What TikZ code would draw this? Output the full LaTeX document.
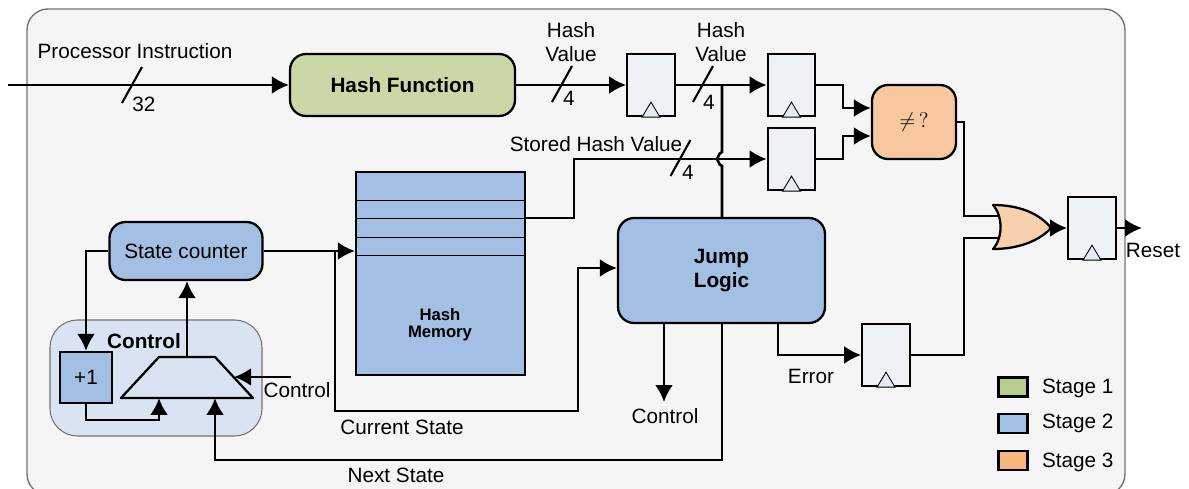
\documentclass[tikz,border=0pt]{standalone}
\usepackage{amsmath,amsfonts,amssymb}
\usepackage{fontspec}
\setmainfont{Liberation Sans}
\usepackage{tikz}
\usetikzlibrary{arrows.meta,positioning}

\definecolor{panelgray}{HTML}{F5F5F5}
\definecolor{stageone}{HTML}{C9D8A6}
\definecolor{stagetwo}{HTML}{A3BFE4}
\definecolor{stagethree}{HTML}{F7C8A0}
\definecolor{regfill}{HTML}{EEF2F7}
\definecolor{clockfill}{HTML}{E4EBF6}
\definecolor{groupfill}{HTML}{DAE3F1}
\definecolor{keyone}{HTML}{B7CC89}
\definecolor{keythree}{HTML}{F9B77C}

\begin{document}
\begin{tikzpicture}[
    x=0.02cm, y=-0.02cm,
    every node/.style={font=\fontsize{11.8}{13.6}\selectfont, inner sep=0pt, align=center},
    block/.style={draw, line width=1.3pt, rounded corners=0.32cm},
    reg/.style={draw, line width=1.3pt, fill=regfill, minimum width=0.95cm, minimum height=1.24cm},
    swatch/.style={draw, line width=1.3pt, minimum width=0.58cm, minimum height=0.38cm},
    wire/.style={line width=1.5pt},
    arrow/.style={wire, -{Latex[length=3.4mm,width=3.6mm]}}
]
\clip (0,0) rectangle (1189,489);

\draw[draw=black!55, line width=0.8pt, fill=panelgray, rounded corners=0.42cm] (27,9) rectangle (1125,495);
\draw[draw=black!55, line width=0.6pt, fill=groupfill, rounded corners=0.55cm] (50,320) rectangle (262,436);

% gate ends
\coordinate (orA) at (1000,216);
\coordinate (orB) at (1000,238);
\coordinate (orC) at (1051,228);

% blocks
\node (hashfn) [block, fill=stageone, minimum width=4.5cm, minimum height=1.24cm] at (402.5,85) {\bfseries Hash Function};
\node (memory) [draw, line width=1.3pt, fill=stagetwo, minimum width=3.38cm, minimum height=4.06cm] at (440.5,273.5) {};
\node (memlabel) [font=\fontsize{9.5}{9.8}\selectfont\bfseries] at (440,325) {Hash\\Memory};
\node (jump) [block, fill=stagetwo, minimum width=4.14cm, minimum height=2.1cm] at (721.5,270.5) {\bfseries Jump\\\bfseries Logic};
\node (counter) [block, fill=stagetwo, minimum width=3.06cm, minimum height=1.16cm] at (186,251) {State counter};
\node (plusone) [draw, line width=1.3pt, fill=stagetwo, minimum width=1.04cm, minimum height=1.02cm] at (86,377.5) {+1};
\node (compare) [block, fill=stagethree, minimum width=1.68cm, minimum height=1.48cm] at (914,122) {$\neq\,?$};

% mux outline
\coordinate (muxtop) at (187,357);
\coordinate (muxa) at (159,398);
\coordinate (muxb) at (215,398);
\coordinate (muxc) at (234,377);
\draw[line width=1.3pt, line join=round] (121,398) -- (159,357) -- (215,357) -- (253,398) -- cycle;

% registers
\node (regA) [reg] at (651,85) {};
\node (regB) [reg] at (791.5,85) {};
\node (regC) [reg] at (791.5,159) {};
\node (regD) [reg] at (886,355) {};
\node (regE) [reg] at (1092,228) {};
\foreach \reg in {regA,regB,regC,regD,regE}
    \draw[line width=0.5pt, fill=clockfill] ([xshift=-0.18cm]\reg.south) -- ([yshift=0.3cm]\reg.south) -- ([xshift=0.18cm]\reg.south) -- cycle;

% free ends and bends
\coordinate (start) at (8,85);
\coordinate (tap) at (722,85);
\coordinate (branch) at (335,251);
\coordinate (sel) at (291,377);
\coordinate (ctrlout) at (664,402);
\coordinate (reset) at (1142,228);

% connectors
\draw[arrow] (start) -- (hashfn);
\draw[arrow] (hashfn) -- (regA);
\draw[arrow] (regA) -- (regB);
\draw[wire] (tap) -- (722,152) .. controls (717,154) and (720,157) .. (717,159) .. controls (720,161) and (717,164) .. (722,166) -- (722,218);
\draw[arrow] (regB.east) -- (843,85) |- (compare.west |- 0,108);
\draw[arrow] (regC.east) -- (843,159) |- (compare.west |- 0,136);
\draw[arrow] (memory.east |- 0,218) -- (574,218) |- (regC.west);
\draw[wire] (compare.east) -- (964,122) |- (orA);
\draw[wire] (regD.east) -- (964,355) |- (orB);
\draw[arrow] (orC) -- (regE.west);
\draw[arrow] (regE.east) -- (reset);
\draw[arrow] (counter.east) -- (memory.west |- counter.east);
\draw[arrow] (branch) -- (335,411) -| (578,268) -- (jump.west |- 0,268);
\draw[arrow] (jump.south -| ctrlout) -- (ctrlout);
\draw[arrow] (722,323) -- (722,460) -| (muxb);
\draw[arrow] (778,323) -- (778,355) -- (regD.west);
\draw[arrow] (counter.west) -| (plusone.north);
\draw[arrow] (muxtop) -- (counter.south -| muxtop);
\draw[arrow] (plusone.south) -- (86,420) -| (muxa);
\draw[arrow] (sel) -- (muxc);

% or gate
\draw[line width=1.3pt, line join=round, fill=stagethree!85!white] (993,205) .. controls (1020,205) and (1040,214) .. (orC) .. controls (1040,240) and (1020,249) .. (993,249) .. controls (1003,238) and (1003,216) .. cycle;

% memory rows
\foreach \row in {200,218,237,255}
    \draw[line width=0.5pt] (memory.west |- 0,\row) -- (memory.east |- 0,\row);

% bus marks
\foreach \sx/\sy in {132/85,562/84,703/84,680.5/158}
    \draw[line width=1.2pt] (\sx-10,\sy+18) -- (\sx+10,\sy-18);

% labels
\node (lblinstr) at (135,51) {Processor Instruction};
\node (lblwidthA) at (144,104) {32};
\node (lblhashA) at (571,42) {Hash\\Value};
\node (lblwidthB) at (569,98) {4};
\node (lblhashB) at (721,42) {Hash\\Value};
\node (lblwidthC) at (709,102) {4};
\node (lblstored) at (596,144) {Stored Hash Value};
\node (lblwidthD) at (688,172) {4};
\node (lblreset) at (1153,250) {Reset};
\node (lblerror) at (811,376) {Error};
\node (lblctrl) at (665,416) {Control};
\node (lblcurrent) at (402,427) {Current State};
\node (lblnext) at (396,475) {Next State};
\node (lblsel) at (297,390) {Control};
\node (lblgroup) [font=\fontsize{11.8}{13.6}\selectfont\bfseries] at (144,341) {Control};

% legend
\node (keyA) [swatch, fill=keyone] at (1013,387) {};
\node (keyB) [swatch, fill=stagetwo] at (1013,423.5) {};
\node (keyC) [swatch, fill=keythree] at (1013,460.5) {};
\node (lblkeyA) [right=0.26cm of keyA, yshift=-1pt] {Stage 1};
\node (lblkeyB) [right=0.26cm of keyB] {Stage 2};
\node (lblkeyC) [right=0.26cm of keyC, yshift=-1pt] {Stage 3};
\end{tikzpicture}
\end{document}
